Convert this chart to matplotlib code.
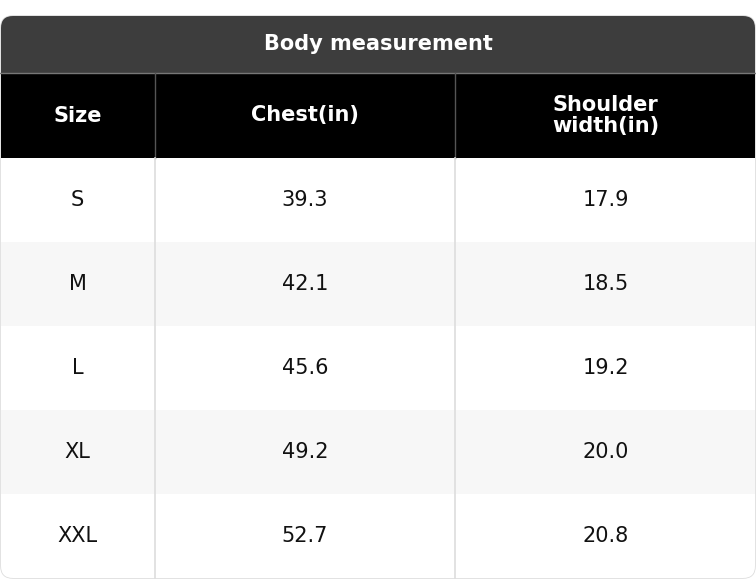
import matplotlib
matplotlib.use('Agg')
import matplotlib.pyplot as plt
from matplotlib.patches import Rectangle, FancyBboxPatch

title = 'Body measurement'
headers = ['Size', 'Chest(in)', 'Shoulder\nwidth(in)']
sizes = ['S', 'M', 'L', 'XL', 'XXL']
chest = ['39.3', '42.1', '45.6', '49.2', '52.7']
shoulder = ['17.9', '18.5', '19.2', '20.0', '20.8']

W, H = 756, 580
col_edges = [0, 155, 455, 756]
top, title_bot, head_bot, row_h = 16, 73, 158, 84

fig = plt.figure(figsize=(W / 100, H / 100), dpi=100)
ax = fig.add_axes([0, 0, 1, 1])
ax.set_xlim(0, W)
ax.set_ylim(H, 0)
ax.axis('off')

# rounded outer frame, used as clip
outer = FancyBboxPatch((1, top), W - 2, H - top - 2, boxstyle='round,pad=0,rounding_size=12',
                       fc='white', ec='#dddddd', lw=1.2, zorder=0)
ax.add_patch(outer)

def clipped(p):
    ax.add_patch(p)
    p.set_clip_path(outer)

clipped(Rectangle((0, top), W, title_bot - top, fc='#3d3d3d', ec='none', zorder=1))
ax.text(W / 2, (top + title_bot) / 2, title, color='white', fontsize=15, fontweight='bold',
        ha='center', va='center', zorder=3)

clipped(Rectangle((0, title_bot), W, head_bot - title_bot, fc='black', ec='none', zorder=1))
ax.plot([0, W], [title_bot, title_bot], color='#777777', lw=1, zorder=2)
for i, h in enumerate(headers):
    cx = (col_edges[i] + col_edges[i + 1]) / 2
    ax.text(cx, (title_bot + head_bot) / 2, h, color='white', fontsize=15, fontweight='bold',
            ha='center', va='center', linespacing=1.1, zorder=3)

rows = list(zip(sizes, chest, shoulder))
for r, vals in enumerate(rows):
    y0 = head_bot + r * row_h
    clipped(Rectangle((0, y0), W, row_h, fc='white' if r % 2 == 0 else '#f7f7f7', ec='none', zorder=1))
    for i, v in enumerate(vals):
        cx = (col_edges[i] + col_edges[i + 1]) / 2
        ax.text(cx, y0 + row_h / 2, v, color='#111111', fontsize=15, ha='center', va='center', zorder=3)

for x in col_edges[1:-1]:
    ax.plot([x, x], [title_bot, head_bot], color='#555555', lw=1, zorder=2)
    ax.plot([x, x], [head_bot, H - 2], color='#dddddd', lw=1.2, zorder=2)

fig.savefig('out.png', dpi=100, facecolor='white')
